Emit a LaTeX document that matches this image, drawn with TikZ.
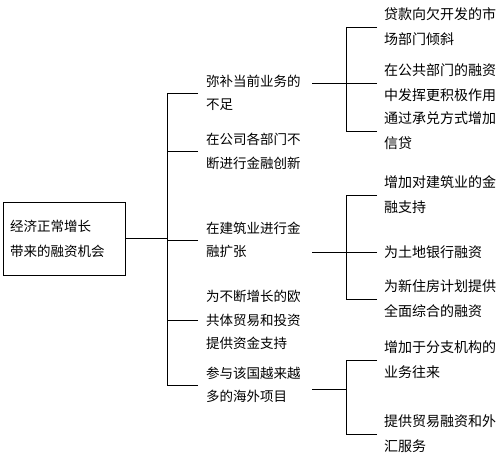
\documentclass[tikz,border=0pt]{standalone}
\usepackage{fontspec}
\newfontfamily\cjk{Noto Sans CJK SC}
\usetikzlibrary{positioning}
\tikzset{
  rootbox/.style={draw,line width=0.8pt,align=left,text width=108pt,inner xsep=7pt,
    minimum height=73pt,font=\cjk\fontsize{13.5}{25}\selectfont},
  midtxt/.style={anchor=west,align=left,text width=98pt,inner xsep=8pt,inner ysep=0pt,
    font=\cjk\fontsize{13.5}{23.5}\selectfont},
  leaftxt/.style={anchor=west,align=left,text width=112pt,inner xsep=7pt,inner ysep=0pt,
    font=\cjk\fontsize{14}{25}\selectfont},
  brl/.style={line width=0.8pt},
}
\begin{document}
\begin{tikzpicture}[x=1pt,y=-1pt]
  \useasboundingbox (0,0) rectangle (503,459);
  \node[rootbox] (root) at (64,238.5) {经济正常增长\\带来的融资机会};
  % middle column
  \node[midtxt] (m1) at (198,93)    {弥补当前业务的\\不足};
  \node[midtxt] (m2) at (198,151.5) {在公司各部门不\\断进行金融创新};
  \node[midtxt] (m3) at (198,240)   {在建筑业进行金\\融扩张};
  \node[midtxt] (m4) at (198,320)   {为不断增长的欧\\共体贸易和投资\\提供资金支持};
  \node[midtxt] (m5) at (198,385)   {参与该国越来越\\多的海外项目};
  % right column
  \node[leaftxt] (l1) at (377,27)  {贷款向欠开发的市\\场部门倾斜};
  \node[leaftxt] (l2) at (377,83)  {在公共部门的融资\\中发挥更积极作用};
  \node[leaftxt] (l3) at (377,131) {通过承兑方式增加\\信贷};
  \node[leaftxt] (l4) at (377,195) {增加对建筑业的金\\融支持};
  \node[leaftxt] (l5) at (377,252) {为土地银行融资};
  \node[leaftxt] (l6) at (377,299) {为新住房计划提供\\全面综合的融资};
  \node[leaftxt] (l7) at (377,360) {增加于分支机构的\\业务往来};
  \node[leaftxt] (l8) at (377,434) {提供贸易融资和外\\汇服务};
  \coordinate (tk) at (167,0);
  \coordinate (s1) at (346,83);
  \coordinate (s2) at (346,252);
  \coordinate (s3) at (346,389);
  % connectors
  \draw[brl] (root.east) -- (root.east -| tk);
  \draw[brl] (m1.west -| tk) -- (m5.west -| tk);
  \foreach \i in {1,...,5}
    \draw[brl] (m\i.west) -- (m\i.west -| tk);
  \foreach \t/\m/\a/\b in {s1/m1/1/3, s2/m3/4/6, s3/m5/7/8}{
    \draw[brl] (\m.east |- \t) -- (\t);
    \draw[brl] (l\a.west -| \t) -- (l\b.west -| \t);
  }
  \foreach \i in {1,...,8}
    \draw[brl] (l\i.west) -- (l\i.west -| s1);
\end{tikzpicture}
\end{document}
